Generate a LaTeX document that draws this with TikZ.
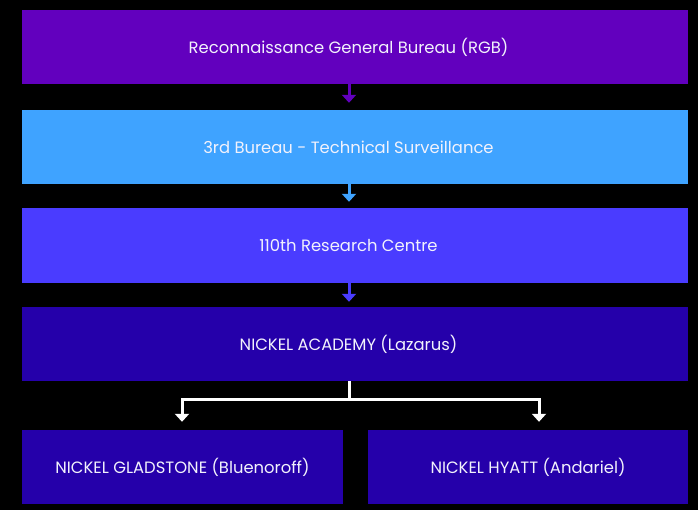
\documentclass[tikz,border=0pt]{standalone}
\usepackage{fontspec}
\setmainfont{Poppins}
\usetikzlibrary{arrows.meta}
\definecolor{cpurple}{RGB}{98,0,190}
\definecolor{clight}{RGB}{63,163,255}
\definecolor{cblue}{RGB}{74,60,255}
\definecolor{cdark}{RGB}{37,0,170}
\definecolor{ctext}{RGB}{242,242,252}
\newcommand{\myshiftl}{\hspace*{-13pt}}
\tikzset{
  box/.style={minimum height=74pt, inner sep=0pt, text=ctext, font=\fontsize{16.4}{18}\selectfont},
  conn/.style={line width=3pt, -{Triangle[width=14pt,length=8pt]}},
}
\begin{document}
\begin{tikzpicture}[x=1pt,y=1pt]
\fill[black] (0,0) rectangle (698,-510);
\useasboundingbox (0,0) rectangle (698,-510);
\node[box, fill=cpurple, minimum width=666pt] (b1) at (355,-47) {\myshiftl Reconnaissance General Bureau (RGB)};
\node[box, fill=clight, minimum width=666pt] (b2) at (355,-147) {\myshiftl 3rd Bureau - Technical Surveillance};
\node[box, fill=cblue, minimum width=666pt, minimum height=75pt] (b3) at (355,-245.5) {\myshiftl 110th Research Centre};
\node[box, fill=cdark, minimum width=666pt] (b4) at (355,-344) {\myshiftl NICKEL ACADEMY (Lazarus)};
\node[box, fill=cdark, minimum width=321pt] (b5) at (182.5,-467) {NICKEL GLADSTONE (Bluenoroff)};
\node[box, fill=cdark, minimum width=320pt] (b6) at (528,-467) {NICKEL HYATT (Andariel)};
\coordinate (ax) at (349,0);
\coordinate (lx) at (182,0);
\coordinate (rx) at (539,0);
\coordinate (mid) at (349,-399);
\draw[conn, cpurple, shorten >=7pt] (b1.south -| ax) -- (b2.north -| ax);
\draw[conn, clight, shorten >=6pt] (b2.south -| ax) -- (b3.north -| ax);
\draw[conn, cblue, shorten >=5pt] (b3.south -| ax) -- (b4.north -| ax);
\draw[line width=3pt, white] (b4.south -| ax) -- (mid);
\draw[conn, white, shorten >=8pt] (mid) -| (b5.north -| lx);
\draw[conn, white, shorten >=8pt] (mid) -| (b6.north -| rx);
\end{tikzpicture}
\end{document}
